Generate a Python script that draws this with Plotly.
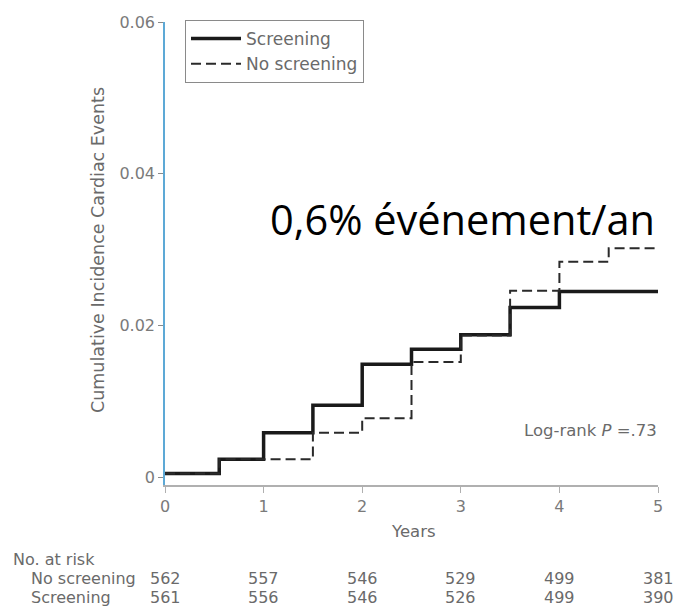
import plotly.graph_objects as go

# ---- data ----
years_screen = [0, 0.55, 1, 1.5, 2, 2.5, 3, 3.5, 4, 5]
inc_screen = [0.0005, 0.0024, 0.0059, 0.0095, 0.0149, 0.0169, 0.0188, 0.0224, 0.0245, 0.0245]

years_noscreen = [0, 0.55, 1.5, 2, 2.5, 3, 3.5, 4, 4.5, 5]
inc_noscreen = [0.0005, 0.0024, 0.0059, 0.0078, 0.0152, 0.0187, 0.0246, 0.0284, 0.0302, 0.0302]

risk_years = [0, 1, 2, 3, 4, 5]
risk_noscreen = [562, 557, 546, 529, 499, 381]
risk_screen = [561, 556, 546, 526, 499, 390]

y_tickvals = [0, 0.02, 0.04, 0.06]
y_ticktext = ["0", "0.02", "0.04", "0.06"]
x_tickvals = [0, 1, 2, 3, 4, 5]

GRAY = "#6a6a6a"
TICKGRAY = "#7a7a7a"
FONT = "DejaVu Sans"

fig = go.Figure()
fig.add_trace(go.Scatter(
    x=years_screen, y=inc_screen, mode="lines", line_shape="hv",
    name="Screening", line=dict(color="#1a1a1a", width=3.5)))
fig.add_trace(go.Scatter(
    x=years_noscreen, y=inc_noscreen, mode="lines", line_shape="hv",
    name="No screening", line=dict(color="#2a2a2a", width=2, dash="10px,5px")))

W, H = 679, 612
ml, mr, mt, mb = 165, 21, 22, 127
pw = W - ml - mr
ph = H - mt - mb

def px_x(px):
    return (px - ml) / pw

def px_y(py):
    return (H - mb - py) / ph

fig.update_layout(
    width=W, height=H,
    margin=dict(l=ml, r=mr, t=mt, b=mb),
    paper_bgcolor="white", plot_bgcolor="white",
    font=dict(family=FONT, size=16, color=GRAY),
    showlegend=True,
    legend=dict(
        x=px_x(185), y=px_y(20), xanchor="left", yanchor="top",
        bordercolor="#8a8a8a", borderwidth=1, bgcolor="white",
        font=dict(family=FONT, size=17, color=GRAY),
        itemwidth=50, tracegroupgap=2,
    ),
    xaxis=dict(
        range=[0, 5], tickvals=x_tickvals, showgrid=False, zeroline=False,
        showline=True, linecolor="#b0b0b0", linewidth=1.5,
        ticks="outside", ticklen=6, tickcolor="#b0b0b0",
        tickfont=dict(family=FONT, size=16, color=TICKGRAY),
    ),
    yaxis=dict(
        range=[-0.001, 0.06], tickvals=y_tickvals, ticktext=y_ticktext,
        showgrid=False, zeroline=False,
        showline=True, linecolor="#5DA9D6", linewidth=1.5,
        ticks="outside", ticklen=5, tickcolor="#8a8a8a",
        tickfont=dict(family=FONT, size=16, color=TICKGRAY),
    ),
)

def note(text, x, y, xanchor="center", xref="paper", size=16, **kw):
    return dict(text=text, xref=xref, yref="paper", x=x, y=y,
                xanchor=xanchor, yanchor="middle", showarrow=False,
                font=dict(size=size, color=kw.pop("color", GRAY),
                          family=kw.pop("family", FONT)), **kw)

ann = []
ann.append(note("Cumulative Incidence Cardiac Events", px_x(98), px_y(250),
                size=17.5, textangle=-90))
ann.append(note("Years", px_x(413), px_y(531), size=16.5))
ann.append(note("Log-rank <i>P</i> =.73", px_x(659), px_y(430),
                xanchor="right", size=16.5))
ann.append(note("0,6% événement/an", px_x(462), px_y(219), size=41.5,
                color="#000000", family="Open Sans"))
ann.append(note("No. at risk", px_x(11), px_y(559), xanchor="left"))
ann.append(note("No screening", px_x(29), px_y(578), xanchor="left"))
ann.append(note("Screening", px_x(29), px_y(597), xanchor="left"))
for yr, n in zip(risk_years, risk_noscreen):
    ann.append(note(str(n), yr, px_y(578), xref="x"))
for yr, n in zip(risk_years, risk_screen):
    ann.append(note(str(n), yr, px_y(597), xref="x"))
fig.update_layout(annotations=ann)

fig.write_html("out.html")
